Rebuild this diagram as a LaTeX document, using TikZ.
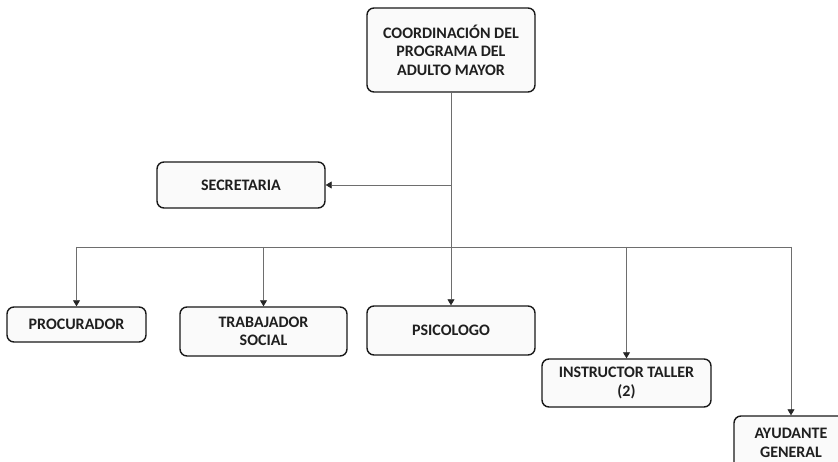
\documentclass[tikz,border=0pt]{standalone}
\usepackage{fontspec}
\setmainfont{Carlito}
\usepackage{tikz}
\usetikzlibrary{arrows.meta}
\definecolor{boxfill}{HTML}{FAFAFA}
\definecolor{wire}{HTML}{6E6E6E}

\begin{document}
\begin{tikzpicture}[x=1pt, y=-1pt,
    every node/.style={font=\fontsize{16}{18.5}\selectfont\bfseries, align=center, text=black!88},
    box/.style={draw=black!90, line width=1.4pt, rounded corners=7pt, fill=boxfill, inner sep=2pt},
    link/.style={draw=wire, line width=0.8pt},
    tip/.style={-{Triangle[length=6pt, width=7pt, color=black!85]}}]
    \clip (0,0) rectangle (838,462);
    \fill[white] (0,0) rectangle (838,462);

    \node[box, minimum width=168, minimum height=84] (coord) at (451,50) {COORDINACIÓN DEL\\PROGRAMA DEL\\ADULTO MAYOR};
    \node[box, minimum width=168, minimum height=46] (secre) at (241,185) {SECRETARIA};
    \node[box, minimum width=139, minimum height=35] (procu) at (76.5,324.5) {PROCURADOR};
    \node[box, minimum width=167, minimum height=49] (trabaj) at (263.5,331.5) {TRABAJADOR\\SOCIAL};
    \node[box, minimum width=168, minimum height=49] (psico) at (451,330.5) {PSICOLOGO};
    \node[box, minimum width=169, minimum height=48] (instr) at (626.5,383) {INSTRUCTOR TALLER\\(2)};
    \node[box, minimum width=114, minimum height=54] (ayud) at (791,443) {AYUDANTE\\GENERAL};

    % tronco y barra
    \coordinate (bar) at (451,247);
    \draw[link] (coord.south) -- (bar);
    \draw[link, tip] (coord |- secre) -- (secre);
    \draw[link] (procu |- bar) -- (ayud |- bar);

    \foreach \n in {procu, trabaj, psico, instr, ayud}
        \draw[link, tip] (\n |- bar) -- (\n.north);
\end{tikzpicture}
\end{document}
